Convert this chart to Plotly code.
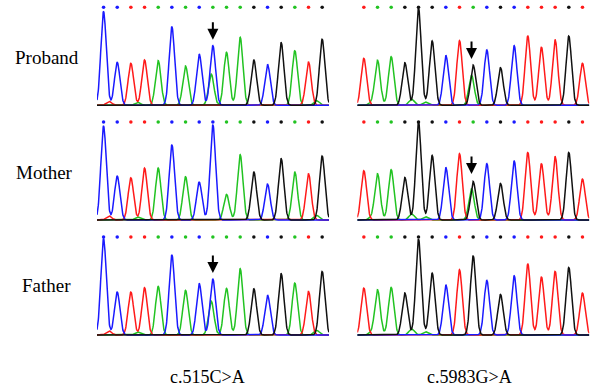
import numpy as np
import plotly.graph_objects as go

# ---------------- data ----------------
BASE_COLORS = {"A": "#22c322", "C": "#1a1aff", "G": "#111111", "T": "#ff1a1a"}
CHANNEL_ORDER = ["A", "T", "C", "G"]

row_labels = ["Proband", "Mother", "Father"]
variant_labels = ["c.515C>A", "c.5983G>A"]
variant_index = 8

# c.515C>A region: reference peak bases, called bases, peak heights
left_ref_bases = list("CCTTACACCAAGCGATG")
left_calls_proband = list("CCTTACACAAAGCGATG")
left_calls_mother = list("CCTTACACCAAGCGATG")
left_calls_father = list("CCTTACACAAAGCGATG")
left_heights_proband = [281, 129, 126, 136, 134, 236, 118, 154, 179, 159, 204, 136, 123, 188, 164, 130, 198]
left_heights_mother = [282, 132, 127, 156, 156, 226, 130, 114, 286, 77, 196, 144, 108, 184, 144, 139, 192]
left_heights_father = [289, 129, 129, 142, 146, 241, 134, 155, 168, 140, 199, 139, 120, 184, 156, 131, 191]
left_alt_base = "A"
left_alt_heights = [94, 0, 102]          # proband, mother, father
left_minor_peaks = [(0.4, "T", 12), (2.5, "A", 9), (15.6, "A", 14)]

# c.5983G>A region
right_ref_bases = list("TAAGGGCTGCGCTTTGT")
right_calls_proband = list("TAAGGGCTACGCTTTGT")
right_calls_mother = list("TAAGGGCTACGCTTTGT")
right_calls_father = list("TAAGGGCTGCGCTTTGT")
right_heights_proband = [141, 135, 146, 128, 291, 193, 150, 194, 121, 166, 113, 179, 208, 174, 196, 208, 126]
right_heights_mother = [148, 139, 151, 128, 294, 194, 158, 199, 116, 169, 110, 177, 203, 169, 190, 203, 123]
right_heights_father = [141, 136, 143, 126, 288, 186, 151, 196, 238, 164, 122, 178, 213, 174, 191, 203, 126]
right_alt_base = "A"
right_alt_heights = [90, 94, 0]
right_minor_peaks = [(3.5, "A", 18), (4.5, "A", 10), (0.5, "A", 6)]

# arrows (which panels show a marker): (column, row)
arrow_panels = [(0, 0), (0, 2), (1, 0), (1, 1)]

# ---------------- layout helpers ----------------
W, H = 592, 389
SIGMA = 0.2
XR = [-0.48, 16.5]
YR = [-4, 300]
DOT_LEVEL = 294


def px_x(p):
    return p / W


def px_y(p):
    return 1 - p / H


col_domains = [[px_x(97), px_x(329)], [px_x(357.3), px_x(589.3)]]
row_domains = [[px_y(106.7), px_y(5.3)], [px_y(221.4), px_y(120.1)], [px_y(336.4), px_y(235.1)]]

panels = [
    (0, 0, left_ref_bases, left_heights_proband, left_calls_proband, left_alt_base, left_alt_heights[0], left_minor_peaks),
    (0, 1, left_ref_bases, left_heights_mother, left_calls_mother, left_alt_base, left_alt_heights[1], left_minor_peaks),
    (0, 2, left_ref_bases, left_heights_father, left_calls_father, left_alt_base, left_alt_heights[2], left_minor_peaks),
    (1, 0, right_ref_bases, right_heights_proband, right_calls_proband, right_alt_base, right_alt_heights[0], right_minor_peaks),
    (1, 1, right_ref_bases, right_heights_mother, right_calls_mother, right_alt_base, right_alt_heights[1], right_minor_peaks),
    (1, 2, right_ref_bases, right_heights_father, right_calls_father, right_alt_base, right_alt_heights[2], right_minor_peaks),
]

fig = go.Figure()
layout_axes = {}
xgrid = np.linspace(XR[0], XR[1], 900)

for k, (col, row, bases, heights, calls, alt_base, alt_h, minor) in enumerate(panels):
    n = k + 1
    xa = "x" if n == 1 else f"x{n}"
    ya = "y" if n == 1 else f"y{n}"
    xkey = "xaxis" if n == 1 else f"xaxis{n}"
    ykey = "yaxis" if n == 1 else f"yaxis{n}"
    layout_axes[xkey] = dict(domain=col_domains[col], range=XR, visible=False, anchor=ya, fixedrange=True)
    layout_axes[ykey] = dict(domain=row_domains[row], range=YR, visible=False, anchor=xa, fixedrange=True)

    peaks = [(i, b, h) for i, (b, h) in enumerate(zip(bases, heights))]
    if alt_h > 0:
        peaks.append((variant_index - 0.12, alt_base, alt_h))
    peaks += list(minor)

    for ch in CHANNEL_ORDER:
        y = np.zeros_like(xgrid)
        for pos, b, h in peaks:
            if b == ch:
                y += h * np.exp(-((xgrid - pos) ** 2) / (2 * SIGMA ** 2))
        fig.add_trace(go.Scatter(x=xgrid, y=y, xaxis=xa, yaxis=ya, mode="lines",
                                 line=dict(color=BASE_COLORS[ch], width=1.5),
                                 hoverinfo="skip", showlegend=False))

    fig.add_trace(go.Scatter(x=list(range(len(calls))), y=[DOT_LEVEL] * len(calls),
                             xaxis=xa, yaxis=ya, mode="markers",
                             marker=dict(size=3.5, color=[BASE_COLORS[c] for c in calls]),
                             hoverinfo="skip", showlegend=False))

annotations = []
label_y = [57.3, 172.5, 285.5]
label_x = [46.5, 44.5, 46.5]
for lbl, yy, xx in zip(row_labels, label_y, label_x):
    annotations.append(dict(text=lbl, x=px_x(xx), y=px_y(yy), xref="paper", yref="paper",
                            showarrow=False, xanchor="center", yanchor="middle",
                            font=dict(family="Liberation Serif", size=19, color="black")))
for lbl, xx in zip(variant_labels, [207.5, 469.5]):
    annotations.append(dict(text=lbl, x=px_x(xx), y=px_y(376.5), xref="paper", yref="paper",
                            showarrow=False, xanchor="center", yanchor="middle",
                            font=dict(family="Liberation Serif", size=18, color="black")))

for col, row in arrow_panels:
    n = col * 3 + row + 1
    xa = "x" if n == 1 else f"x{n}"
    ya = "y" if n == 1 else f"y{n}"
    heights = panels[n - 1][3]
    head = max(heights[variant_index], 120) + 18
    annotations.append(dict(x=variant_index if col == 0 else variant_index - 0.12, y=head,
                            xref=xa, yref=ya, ax=0, ay=-19, axref="pixel", ayref="pixel",
                            text="", showarrow=True, arrowhead=2, arrowsize=1.1,
                            arrowwidth=2, arrowcolor="black", standoff=0))

fig.update_layout(width=W, height=H, margin=dict(l=0, r=0, t=0, b=0),
                  paper_bgcolor="white", plot_bgcolor="white",
                  annotations=annotations, **layout_axes)

fig.write_html("out.html", config={"displayModeBar": False, "staticPlot": True},
               post_script="document.body.style.margin='0px';document.body.style.padding='0px';")
